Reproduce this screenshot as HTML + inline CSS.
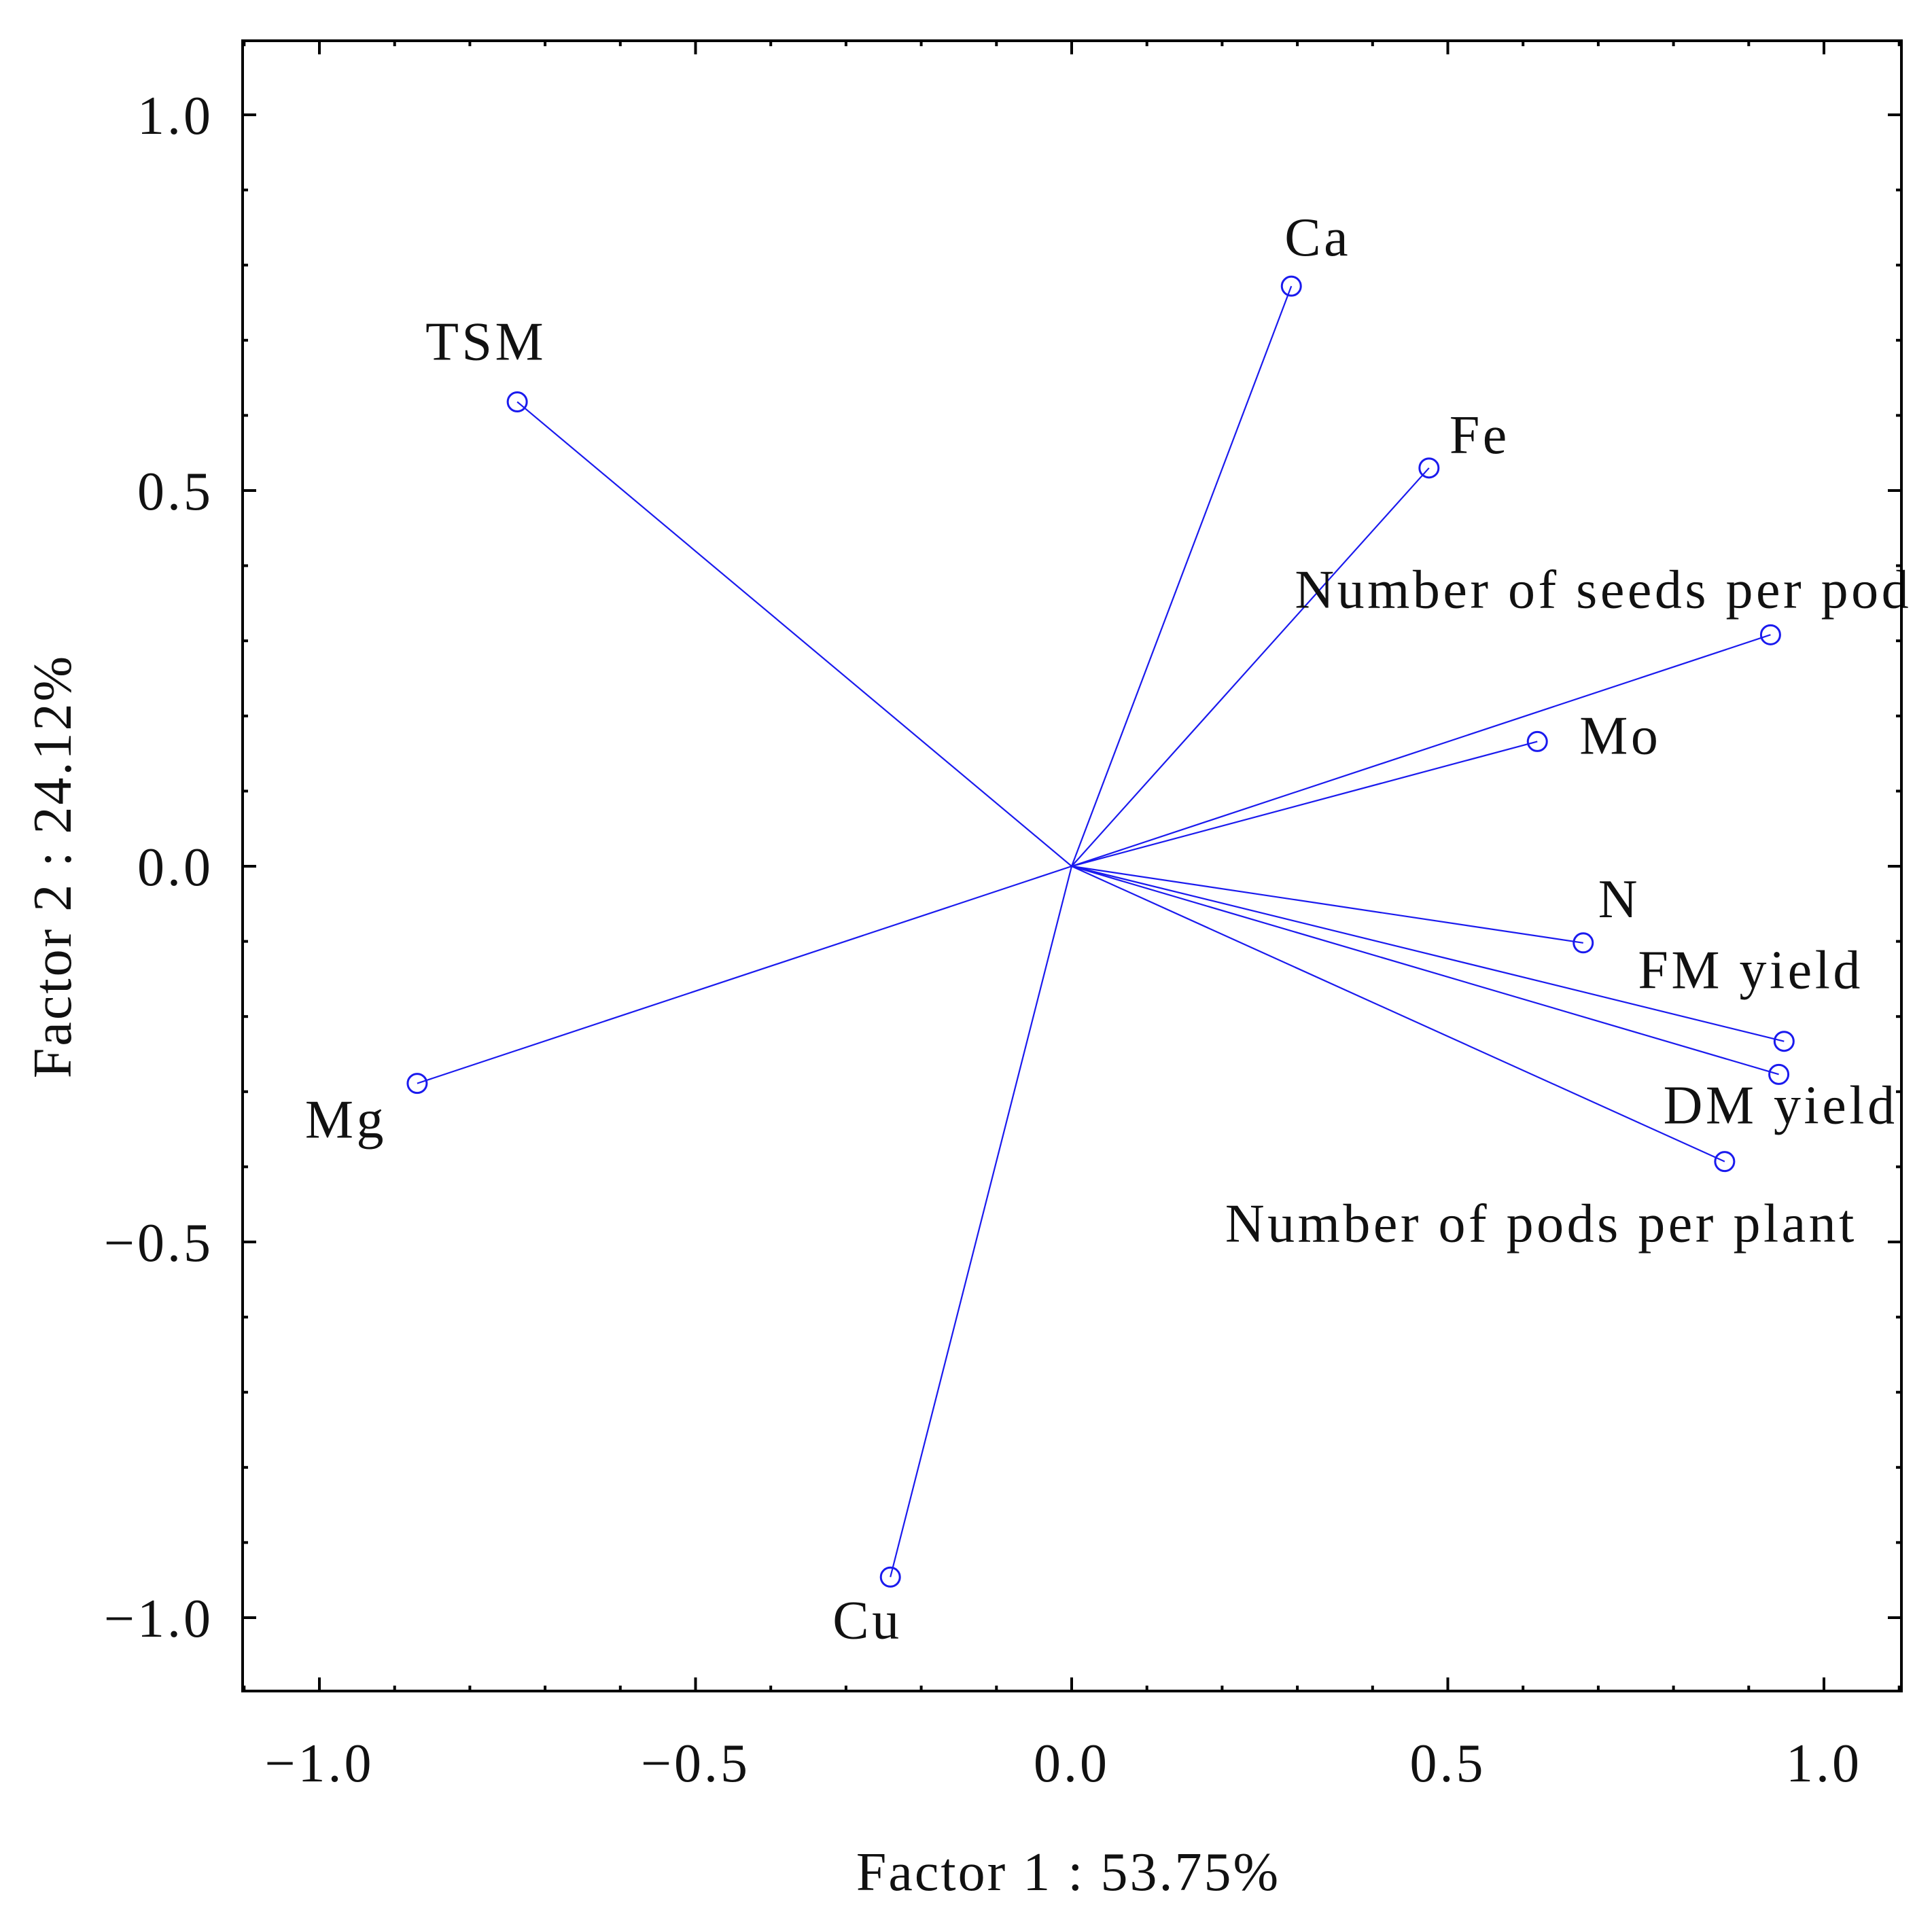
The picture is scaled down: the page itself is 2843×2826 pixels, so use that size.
<!DOCTYPE html>
<html><head><meta charset="utf-8"><style>
html,body{margin:0;padding:0;background:#fff;}
svg text{font-family:"Liberation Serif",serif;fill:#111;}
</style></head><body>
<svg id="chart" width="2843" height="2821" viewBox="0 0 2843 2821" xmlns="http://www.w3.org/2000/svg">
<g id="ticks"></g>
<g id="series"></g>
<g id="labels"></g>
<rect x="357" y="60" width="2441" height="2429" fill="none" stroke="#000" stroke-width="4"/>
<text x="1572" y="2782" font-size="80" letter-spacing="3" text-anchor="middle">Factor 1 : 53.75%</text>
<text transform="translate(104,1275) rotate(-90)" font-size="80" letter-spacing="3" text-anchor="middle">Factor 2 : 24.12%</text>
</svg>
<script>
const variables = ["TSM","Ca","Fe","Number of seeds per pod","Mo","N","FM yield","DM yield","Number of pods per plant","Mg","Cu"];
const factor1 = [-0.737,0.292,0.475,0.929,0.619,0.680,0.947,0.940,0.868,-0.870,-0.241];
const factor2 = [0.618,0.772,0.530,0.308,0.166,-0.102,-0.233,-0.277,-0.393,-0.289,-0.946];
const labelDx = [-135,-10,30,-700,62,22,-215,-170,-735,-165,-85];
const labelDy = [-62,-45,-22,-40,18,-38,-78,72,118,80,90];
const xTicks = [-1.0,-0.5,0.0,0.5,1.0];
const yTicks = [-1.0,-0.5,0.0,0.5,1.0];

const L=357,R=2798,T=60,B=2489;
const X = v => 1577 + v*1107;
const Y = v => 1275 - v*1106;
const NS="http://www.w3.org/2000/svg";
function mk(tag, attrs, parent){const e=document.createElementNS(NS,tag);for(const k in attrs)e.setAttribute(k,attrs[k]);parent.appendChild(e);return e;}
const fmt = v => (v<0?"\u2212":"")+Math.abs(v).toFixed(1);

const tg=document.getElementById('ticks');
for(let i=-11;i<=11;i++){
  const v=i/10, major=(i%5===0), len=major?20:8;
  const x=X(v);
  if(x>L&&x<R){
    let t=mk('line',{x1:x,y1:B,x2:x,y2:B-len,stroke:'#000','stroke-width':4},tg);
    
    
    t=mk('line',{x1:x,y1:T,x2:x,y2:T+len,stroke:'#000','stroke-width':4},tg);
    
    
  }
  const y=Y(v);
  if(y>T&&y<B){
    let t=mk('line',{x1:L,y1:y,x2:L+len,y2:y,stroke:'#000','stroke-width':4},tg);
    
    
    t=mk('line',{x1:R,y1:y,x2:R-len,y2:y,stroke:'#000','stroke-width':4},tg);
    
    
  }
}
xTicks.forEach(v=>{
  const t=mk('text',{x:X(v),y:2622,'font-size':80,'letter-spacing':4,'text-anchor':'middle'},tg);
  t.textContent=fmt(v);
  
  
});
yTicks.forEach(v=>{
  const t=mk('text',{x:314,y:Y(v)+28,'font-size':80,'letter-spacing':4,'text-anchor':'end'},tg);
  t.textContent=fmt(v);
  
  
});

const sg=document.getElementById('series'), lg=document.getElementById('labels');
variables.forEach((name,i)=>{
  const x=X(factor1[i]), y=Y(factor2[i]);
  const ln=mk('line',{x1:X(0),y1:Y(0),x2:x,y2:y,stroke:'#1a1aee','stroke-width':2.2},sg);
  
  
  const c=mk('circle',{cx:x,cy:y,r:14,fill:'none',stroke:'#1a1aee','stroke-width':3},sg);
  
  
  const t=mk('text',{x:x+labelDx[i],y:y+labelDy[i],'font-size':80,'letter-spacing':4.5},lg);
  t.textContent=name;
  
  
});
</script>
</body></html>
